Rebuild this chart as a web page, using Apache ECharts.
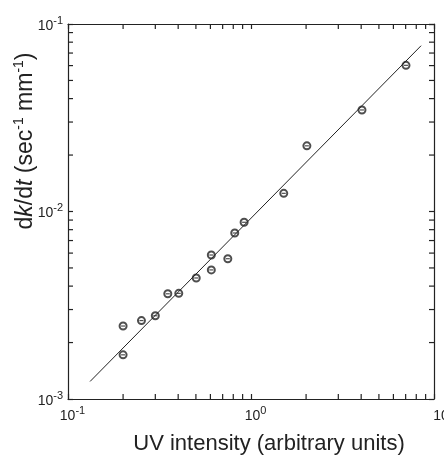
<!DOCTYPE html>
<html>
<head>
<meta charset="utf-8">
<style>
  html, body { margin: 0; padding: 0; background: #fff; }
  #chart { width: 444px; height: 456px; }
</style>
<script src="https://cdn.jsdelivr.net/npm/echarts@6/dist/echarts.min.js"></script>
</head>
<body>
<div id="chart"></div>
<script>
// Measured rate of change dk/dt against UV intensity (log-log)
const uvIntensity = [0.200, 0.200, 0.252, 0.300, 0.351, 0.403, 0.502, 0.607, 0.607, 0.747, 0.815, 0.917, 1.51, 2.02, 4.04, 7.03];
const dkdt        = [0.00245, 0.00172, 0.00262, 0.00278, 0.00364, 0.00366, 0.00442, 0.00488, 0.00586, 0.00560, 0.00768, 0.00876, 0.0125, 0.0224, 0.0348, 0.0602];

// Fitted power-law line (end points)
const fitX = [0.132, 8.5];
const fitY = [0.00124, 0.0766];

// Axis ranges (decades)
const X_MIN = 0.1, X_MAX = 10;
const Y_MIN = 0.001, Y_MAX = 0.1;

// Minor tick positions: 2..9 within each decade
const minorX = [];
for (const d of [0.1, 1]) for (let m = 2; m <= 9; m++) minorX.push(+(m * d).toPrecision(3));
const minorY = [];
for (const d of [0.001, 0.01]) for (let m = 2; m <= 9; m++) minorY.push(+(m * d).toPrecision(3));

const INK = '#222';
const FONT = 'Liberation Sans';
const TICK = 5;

const powLabel = v => {
  const e = Math.round(Math.log10(v));
  return '{b|10}{s|' + (e < 0 ? '-' : '') + Math.abs(e) + '}';
};
// bottom-axis labels; the last one runs past the right edge of the page
const xPowLabel = v => {
  const e = Math.round(Math.log10(v));
  const base = v >= X_MAX ? 'c' : 'b';
  return '{' + base + '|10}{s|' + (e < 0 ? '-' : '') + Math.abs(e) + '}';
};
const tickRich = {
  b: { fontSize: 14, fontFamily: FONT, color: INK, verticalAlign: 'bottom', lineHeight: 18 },
  s: { fontSize: 11, fontFamily: FONT, color: INK, verticalAlign: 'bottom', lineHeight: 18, padding: [0, 0, 7, 0] }
};
const xTickRich = {
  b: Object.assign({}, tickRich.b, { padding: [0, 0, 0, 9] }),
  c: Object.assign({}, tickRich.b, { padding: [0, 0, 0, 20] }),
  s: tickRich.s
};

const frameLine = { show: true, lineStyle: { color: INK, width: 1.2 } };
const majorTick = { show: true, inside: true, length: TICK, lineStyle: { color: INK, width: 1.2 } };

const chart = echarts.init(document.getElementById('chart'), null, { renderer: 'canvas' });

chart.setOption({
  animation: false,
  backgroundColor: '#fff',
  grid: { left: 68, top: 24, right: 10, bottom: 57, containLabel: false, outerBoundsMode: 'none' },
  xAxis: [
    {
      type: 'log', logBase: 10, min: X_MIN, max: X_MAX, position: 'bottom',
      axisLine: frameLine, axisTick: majorTick, splitLine: { show: false },
      axisLabel: { show: true, margin: 6, formatter: xPowLabel, rich: xTickRich }
    },
    {
      type: 'log', logBase: 10, min: X_MIN, max: X_MAX, position: 'top',
      axisLine: frameLine, axisTick: majorTick, splitLine: { show: false },
      axisLabel: { show: false }
    }
  ],
  yAxis: [
    {
      type: 'log', logBase: 10, min: Y_MIN, max: Y_MAX, position: 'left',
      axisLine: frameLine, axisTick: majorTick, splitLine: { show: false },
      axisLabel: { show: true, margin: 5, formatter: powLabel, rich: tickRich }
    },
    {
      type: 'log', logBase: 10, min: Y_MIN, max: Y_MAX, position: 'right',
      axisLine: frameLine, axisTick: majorTick, splitLine: { show: false },
      axisLabel: { show: false }
    }
  ],
  graphic: [
    {
      type: 'text', x: 269, y: 444,
      style: {
        text: 'UV intensity (arbitrary units)',
        font: '22px "' + FONT + '"', fill: INK, align: 'center', verticalAlign: 'middle'
      }
    },
    {
      type: 'text', x: 24, y: 141, rotation: Math.PI / 2,
      style: {
        text: '{n|d}{i|k}{n|/d}{i|t}{n| (sec}{s|-1}{n| mm}{s|-1}{n|)}',
        align: 'center', verticalAlign: 'middle',
        rich: {
          n: { fontSize: 23, fontFamily: FONT, fill: INK, verticalAlign: 'bottom', lineHeight: 26 },
          i: { fontSize: 23, fontFamily: FONT, fontStyle: 'italic', fill: INK, verticalAlign: 'bottom', lineHeight: 26 },
          s: { fontSize: 14, fontFamily: FONT, fill: INK, verticalAlign: 'bottom', lineHeight: 26, padding: [0, 0, 11, 0] }
        }
      }
    }
  ],
  series: [
    {
      // minor ticks on bottom and top frame edges
      type: 'custom', xAxisIndex: 0, yAxisIndex: 0, silent: true, clip: false,
      data: minorX.map(v => [v, Y_MIN]),
      renderItem: (params, api) => {
        const v = api.value(0);
        const b = api.coord([v, Y_MIN]);
        const t = api.coord([v, Y_MAX]);
        const st = { stroke: INK, lineWidth: 1.2 };
        return {
          type: 'group', children: [
            { type: 'line', shape: { x1: b[0], y1: b[1], x2: b[0], y2: b[1] - TICK }, style: st },
            { type: 'line', shape: { x1: t[0], y1: t[1], x2: t[0], y2: t[1] + TICK }, style: st }
          ]
        };
      }
    },
    {
      // minor ticks on left and right frame edges
      type: 'custom', xAxisIndex: 0, yAxisIndex: 0, silent: true, clip: false,
      data: minorY.map(v => [X_MIN, v]),
      renderItem: (params, api) => {
        const v = api.value(1);
        const l = api.coord([X_MIN, v]);
        const r = api.coord([X_MAX, v]);
        const st = { stroke: INK, lineWidth: 1.2 };
        return {
          type: 'group', children: [
            { type: 'line', shape: { x1: l[0], y1: l[1], x2: l[0] + TICK, y2: l[1] }, style: st },
            { type: 'line', shape: { x1: r[0], y1: r[1], x2: r[0] - TICK, y2: r[1] }, style: st }
          ]
        };
      }
    },
    {
      type: 'line', silent: true, symbol: 'none',
      data: fitX.map((x, i) => [x, fitY[i]]),
      lineStyle: { color: INK, width: 1 }
    },
    {
      type: 'scatter', silent: true, symbol: 'emptyCircle', symbolSize: 7,
      data: uvIntensity.map((x, i) => [x, dkdt[i]]),
      itemStyle: { color: INK, borderColor: INK, borderWidth: 1.1 }
    },
    {
      type: 'scatter', silent: true, symbol: 'rect', symbolSize: [4, 1.2],
      data: uvIntensity.map((x, i) => [x, dkdt[i]]),
      itemStyle: { color: INK }
    }
  ]
});
</script>
</body>
</html>
